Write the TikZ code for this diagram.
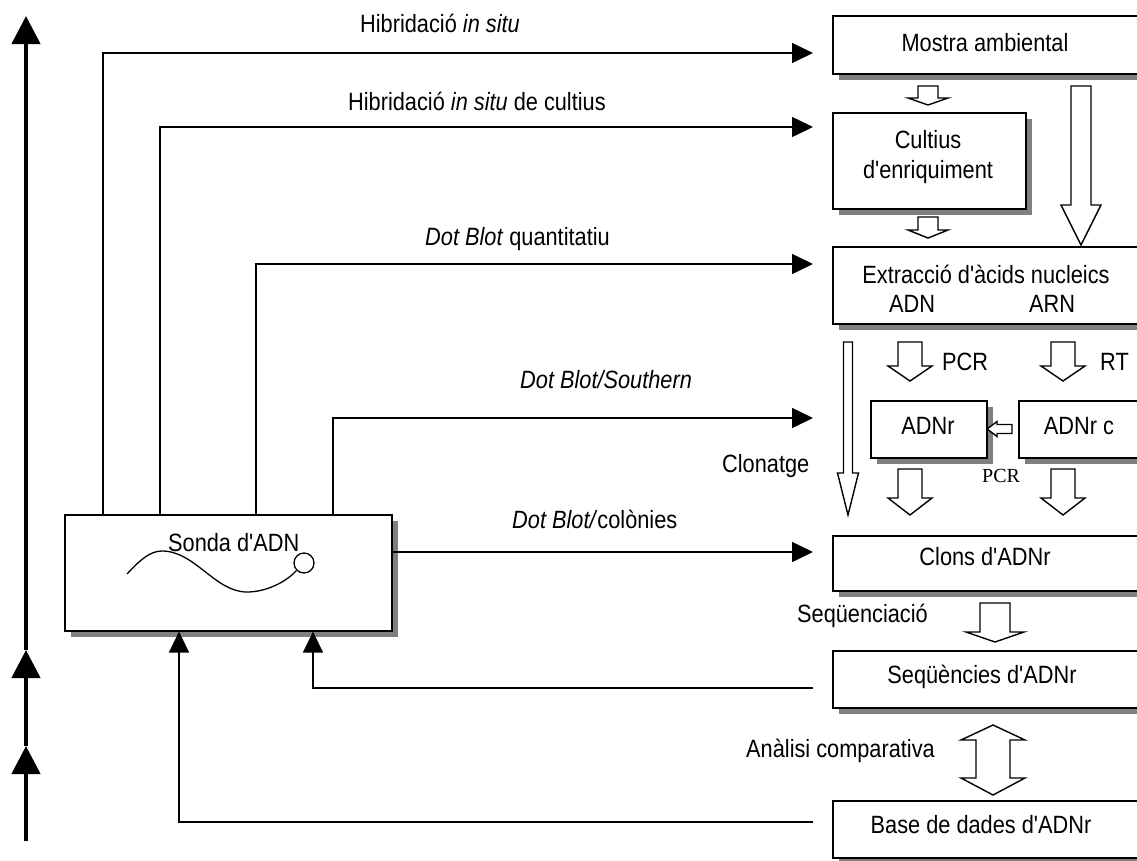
\documentclass[tikz,border=0pt]{standalone}
\usepackage{fontspec}
\setmainfont{Liberation Sans}[FakeStretch=0.87,Ligatures=TeXOff]
\newfontfamily\pcrfont{Liberation Serif}[Ligatures=TeXOff]
\usetikzlibrary{arrows.meta,shadows}
\newcommand\myhdown[6]{\draw[hollow] ({#1-#5},#2) -- ({#1+#5},#2) -- ({#1+#5},#3) -- ({#1+#6},#3) -- (#1,#4) -- ({#1-#6},#3) -- ({#1-#5},#3) -- cycle;}
\begin{document}
\begin{tikzpicture}[x=1pt,y=-1pt,
  box/.style={draw, line width=1.6pt, fill=white, inner sep=0pt, anchor=north west,
    general shadow={fill=black!50, shadow xshift=6pt, shadow yshift=-6pt}},
  txt/.style={font=\fontsize{25}{30}\selectfont, inner sep=0pt},
  tarrow/.style={line width=1.5pt, -{Triangle[length=21pt,width=20pt]}},
  bigarrow/.style={line width=4.5pt, -{Triangle[length=28pt,width=28pt]}},
  hollow/.style={draw, line width=1.4pt, fill=white, line join=miter},
  wave/.style={line width=1.3pt}]
\fill[white] (0,0) rectangle (1137,860);
\useasboundingbox (0,0) rectangle (1137,860);

% boxes
\node[box, minimum width=308pt, minimum height=58pt] (mostra) at (832,15) {};
\node[box, minimum width=193pt, minimum height=96pt] (cultius) at (832,112) {};
\node[box, minimum width=308pt, minimum height=77pt] (extr) at (832,246) {};
\node[box, minimum width=116pt, minimum height=57pt] (adnr) at (870,400) {};
\node[box, minimum width=122pt, minimum height=57pt] (adnrc) at (1018,400) {};
\node[box, minimum width=308pt, minimum height=55pt] (clons) at (832,535) {};
\node[box, minimum width=308pt, minimum height=57pt] (seq) at (832,650) {};
\node[box, minimum width=308pt, minimum height=57pt] (base) at (832,800) {};
\node[box, minimum width=327pt, minimum height=116pt] (sonda) at (64,514) {};

% box texts
\node[txt, anchor=base] (tmostra) at (985,51) {Mostra ambiental};
\node[txt, anchor=base] (tcult1) at (928,148) {Cultius};
\node[txt, anchor=base] (tcult2) at (928,178) {d'enriquiment};
\node[txt, anchor=base] (textr) at (986,283) {Extracció d'àcids nucleics};
\node[txt, anchor=base] (tadn) at (912,312) {ADN};
\node[txt, anchor=base] (tarn) at (1052,312) {ARN};
\node[txt, anchor=base] (tadnr) at (928,434) {ADNr};
\node[txt, anchor=base] (tadnrc) at (1079,434) {ADNr c};
\node[txt, anchor=base] (tclons) at (985,565) {Clons d'ADNr};
\node[txt, anchor=base] (tseq) at (982,683) {Seqüències d'ADNr};
\node[txt, anchor=base] (tbase) at (981,833) {Base de dades d'ADNr};
\node[txt, anchor=base west] (tsonda) at (168,551) {Sonda d'ADN};

% probe drawing
\node[circle, draw, line width=1.3pt, minimum size=20pt, inner sep=0pt] (probe) at (304,563) {};
\draw[wave] (127,574) .. controls (140,560) and (150,551) .. (162,551)
  .. controls (195,551) and (215,592) .. (247,592)
  .. controls (265,592) and (285,583) .. (probe.225);

% labels
\node[txt, anchor=base west] (l1) at (360,32) {Hibridació \textit{in situ}};
\node[txt, anchor=base west] (l2) at (348,110) {Hibridació \textit{in situ} de cultius};
\node[txt, anchor=base west] (l3) at (425,245) {\textit{Dot Blot} quantitatiu};
\node[txt, anchor=base west] (l4) at (520,388) {\textit{Dot Blot/Southern}};
\node[txt, anchor=base west] (l5) at (512,528) {\textit{Dot Blot/}colònies};
\node[txt, anchor=base west] (l6) at (722,472) {Clonatge};
\node[txt, anchor=base west] (l7) at (797,622) {Seqüenciació};
\node[txt, anchor=base east] (l8) at (935,757) {Anàlisi comparativa};
\node[txt, anchor=base west] (l9) at (942,370) {PCR};
\node[txt, anchor=base west] (l10) at (1100,370) {RT};
\node[font=\pcrfont\fontsize{20}{24}\selectfont, inner sep=0pt, anchor=base west] (l11) at (982,482) {PCR};

% arrow end coordinates
\coordinate (e1) at (813,53);
\coordinate (e2) at (813,127);
\coordinate (e3) at (813,264);
\coordinate (e4) at (813,418);
\coordinate (e5) at (813,552);
\coordinate (f1) at (813,688);
\coordinate (f2) at (813,822);

\draw[tarrow] ([xshift=39pt]sonda.north west) |- (e1);
\draw[tarrow] ([xshift=96pt]sonda.north west) |- (e2);
\draw[tarrow] ([xshift=192pt]sonda.north west) |- (e3);
\draw[tarrow] ([xshift=269pt]sonda.north west) |- (e4);
\draw[tarrow] (sonda.east |- e5) -- (e5);
\draw[tarrow] (f1) -| ([xshift=249pt]sonda.south west);
\draw[tarrow] (f2) -| ([xshift=115pt]sonda.south west);

% thick left arrow
\coordinate (k0) at (26,841);
\coordinate (k1) at (26,746);
\coordinate (k2) at (26,650);
\coordinate (k3) at (26,16);
\draw[bigarrow] (k0) -- (k1);
\draw[bigarrow] (k1) -- (k2);
\draw[bigarrow] (k2) -- (k3);

% hollow block arrows
\myhdown{928}{86}{98}{105}{10}{20}
\myhdown{928}{217}{230}{238}{10}{20}
\myhdown{1081}{86}{205}{245}{10}{20}
\myhdown{848}{342}{473}{515}{4.5}{10.5}
\myhdown{910}{342}{366}{381}{12}{22}
\myhdown{1063}{342}{366}{381}{12}{22}
\myhdown{910}{469}{498}{515}{12}{22}
\myhdown{1063}{469}{498}{515}{12}{22}
\myhdown{995}{603}{632}{642}{15}{29}
\draw[hollow] (976,740) -- (961,740) -- (993,725) -- (1025,740) -- (1010,740) -- (1010,778)
  -- (1025,778) -- (993,795) -- (961,778) -- (976,778) -- cycle;
\draw[hollow] (1012,424.5) -- (997,424.5) -- (997,421.5) -- (987,429) -- (997,436.5)
  -- (997,433.5) -- (1012,433.5) -- cycle;
\end{tikzpicture}
\end{document}
